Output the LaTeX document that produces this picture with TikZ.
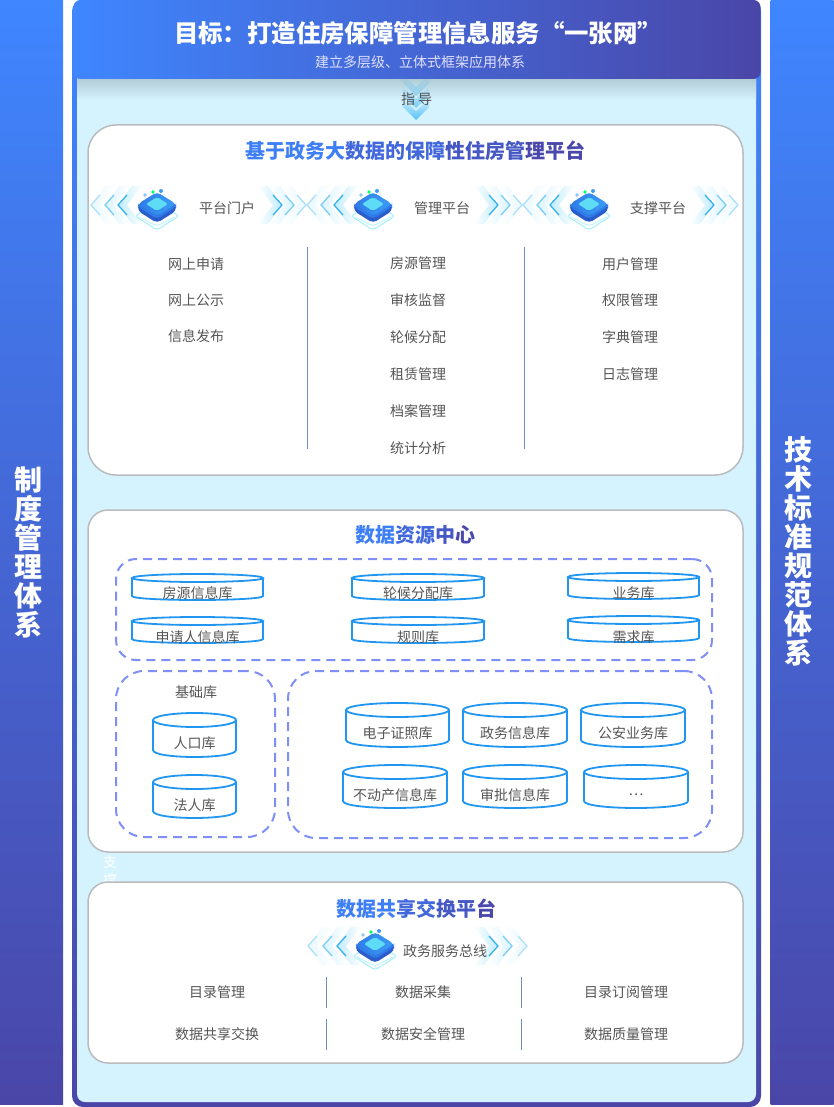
\documentclass[tikz,border=0pt]{standalone}
\usepackage{fontspec}
\setmainfont{Noto Sans CJK SC}
\usetikzlibrary{positioning,arrows.meta,fadings}

\definecolor{barblue}{HTML}{3F86FF}
\definecolor{barindigo}{HTML}{4A46A8}
\definecolor{framefill}{HTML}{D4F3FF}
\definecolor{itemgrey}{HTML}{555555}
\definecolor{rulegrey}{HTML}{B9BBBD}
\definecolor{dashblue}{HTML}{7F8FF5}
\definecolor{cylblue}{HTML}{2196F0}
\definecolor{divblue}{HTML}{6D8CC4}
\definecolor{gradA}{HTML}{3F7FF5}
\definecolor{gradB}{HTML}{4268DC}
\definecolor{gradC}{HTML}{4558C4}
\definecolor{gradD}{HTML}{4A48AC}
\definecolor{chevline}{HTML}{36B4F0}
\definecolor{chevwash}{HTML}{8FDDFB}
\definecolor{chipside}{HTML}{2A5CCB}
\definecolor{chipmid}{HTML}{2F7CE8}
\definecolor{chiptop}{HTML}{3C9CF5}
\definecolor{chipcore}{HTML}{5FDCF5}
\definecolor{chipglow}{HTML}{A5F0FC}

\newcommand{\fsize}[1]{\fontsize{#1}{#1}\selectfont}
% name, centre x, top y, width, height, end radius, text y, text
\newcommand{\dbcyl}[8]{%
  \draw[dbline] (#2-#4/2,#3+#6) -- (#2-#4/2,#3+#5-#6)
    .. controls (#2-#4/2,#3+#5+0.33*#6) and (#2+#4/2,#3+#5+0.33*#6) .. (#2+#4/2,#3+#5-#6)
    -- (#2+#4/2,#3+#6);
  \draw[dbline] (#2,#3+#6) ellipse [x radius=#4/2, y radius=#6];
  \node[itemtext] (#1) at (#2,#7) {#8};
}

\tikzset{
  bar/.style={minimum width=63pt, minimum height=1104pt, inner sep=0pt,
    top color=barblue, bottom color=barindigo},
  bartext/.style={white, align=center, inner sep=0pt, font=\fsize{28}\bfseries},
  panel/.style={draw=rulegrey, line width=1.5pt, fill=white, inner sep=0pt},
  paneltitle/.style={inner sep=0pt, font=\fsize{20}\bfseries},
  itemtext/.style={itemgrey, inner sep=0pt, font=\fsize{14}},
  dashbox/.style={draw=dashblue, line width=2pt, dash pattern=on 9pt off 6pt, inner sep=0pt},
  dbline/.style={draw=cylblue, line width=1.8pt, fill=white},
  divider/.style={draw=divblue, line width=1pt},
  chevleft/.pic={
    \fill[chevwash, opacity=0.55*#1, path fading=east] (0,0) -- (14,-19) -- (24,-19) -- (9,0) -- (24,19) -- (14,19) -- cycle;
    \draw[chevline, line width=1.3pt, opacity=#1] (9,-10) -- (0,0) -- (9,10);
  },
  chevright/.pic={
    \fill[chevwash, opacity=0.55*#1, path fading=west] (0,0) -- (-14,-19) -- (-24,-19) -- (-9,0) -- (-24,19) -- (-14,19) -- cycle;
    \draw[chevline, line width=1.3pt, opacity=#1] (-9,-10) -- (0,0) -- (-9,10);
  },
  guidevee/.pic={
    \fill[chevline, opacity=#1, path fading=north] (0,0) -- (13,-13) -- (14,-22) -- (0,-9) -- (-14,-22) -- (-13,-13) -- cycle;
  },
  chip/.pic={
    \draw[chipglow, line width=1pt, rounded corners=3pt] (0,0) -- (22,13) -- (0,27) -- (-22,13) -- cycle;
    \draw[chipglow!70!white, line width=1pt, rounded corners=3pt] (-18,14) -- (0,23) -- (18,14);
    \fill[chipside, rounded corners=4pt] (0,-10) -- (19,1) -- (19,8) -- (0,20) -- (-19,8) -- (-19,1) -- cycle;
    \fill[chipmid, rounded corners=4pt] (0,-10) -- (19,1) -- (19,4) -- (0,16) -- (-19,4) -- (-19,1) -- cycle;
    \shade[left color=chipmid, right color=chiptop, rounded corners=4pt] (0,-11) -- (19,1) -- (0,13) -- (-19,1) -- cycle;
    \fill[chipcore, rounded corners=2pt] (0,-6) -- (11,1) -- (0,8) -- (-11,1) -- cycle;
    \fill[chiptop!60!white] (-12,-8) circle (1.8);
    \fill[green!60!cyan] (-4,-11) circle (1.8);
    \fill[chiptop] (4,-12) circle (2);
  },
}

\begin{document}
\begin{tikzpicture}[x=1pt,y=-1pt]
\useasboundingbox (0,0) rectangle (833,1107);

% side bars
\node[bar] (lbar) at (31.5,552) {};
\node[bar] (rbar) at (802,552) {};
\node[bartext] (ltext) at (28,552) {制\\[1pt]度\\[1pt]管\\[1pt]理\\[1pt]体\\[1pt]系};
\node[bartext] (rtext) at (798,551) {技\\[1pt]术\\[1pt]标\\[1pt]准\\[1pt]规\\[1pt]范\\[1pt]体\\[1pt]系};

% frame and header
\node[top color=barblue, bottom color=barindigo, rounded corners=11pt, minimum width=689pt, minimum height=1107pt, inner sep=0pt] (frame) at (416.5,553.5) {};
\node[fill=framefill, rounded corners=8pt, minimum width=679pt, minimum height=1040pt, inner sep=0pt] (inner) at (416.5,582) {};
\shade[top color=black!16!framefill, bottom color=framefill] (77,79) rectangle (756,100);
\node[left color=barblue, right color=barindigo, rounded corners=7pt, minimum width=687pt, minimum height=79pt, inner sep=0pt] (header) at (417,39.5) {};
\node[white, inner sep=0pt, font=\fsize{24.4}\bfseries] (goal) at (418,33) {目标：打造住房保障管理信息服务“一张网”};
\node[white!88!blue, inner sep=0pt, font=\fsize{14}] (goalsub) at (420,62) {建立多层级、立体式框架应用体系};

% guide arrows
\pic at (416,96) {guidevee=0.4};
\pic at (416,108) {guidevee=0.6};
\pic at (416,120) {guidevee=0.8};
\node[itemtext] (guideA) at (408,99) {指};
\node[itemtext] (guideB) at (425,99) {导};

% support label, hidden in part by the lower panel
\node[white, inner sep=0pt, font=\fsize{14}] (supportA) at (110,862) {支};
\node[white, inner sep=0pt, font=\fsize{14}] (supportB) at (110,880) {撑};

% platform panel
\node[panel, rounded corners=28pt, minimum width=655pt, minimum height=350pt] (platform) at (415.5,300) {};
\node[paneltitle] (platformtitle) at (415,151) {{\color{gradA}基于政务大}{\color{gradB}数据的保障}{\color{gradC}性住房管}{\color{gradD}理平台}};

\foreach \xx/\op in {91/0.35,105/0.6,118/1,307/0.35,321/0.6,334/1,523/0.35,537/0.6,550/1}{
  \pic at (\xx,205) {chevleft=\op};
}
\foreach \xx/\op in {282/1,294/0.6,306/0.35,498/1,510/0.6,522/0.35,714/1,726/0.6,738/0.35}{
  \pic at (\xx,205) {chevright=\op};
}
\pic at (157,203) {chip};
\pic at (373,203) {chip};
\pic at (589,203) {chip};
\node[itemtext] (portal) at (227,208) {平台门户};
\node[itemtext] (manage) at (442,208) {管理平台};
\node[itemtext] (support) at (658,208) {支撑平台};

\coordinate (divAtop) at (307,247);
\coordinate (divAbot) at (307,449);
\coordinate (divBtop) at (524,247);
\coordinate (divBbot) at (524,449);
\draw[divider] (divAtop) -- (divAbot);
\draw[divider] (divBtop) -- (divBbot);

\node[itemtext] (a1) at (196,264) {网上申请};
\node[itemtext] (a2) at (196,300) {网上公示};
\node[itemtext] (a3) at (196,336) {信息发布};

\node[itemtext] (b1) at (418,263) {房源管理};
\node[itemtext] (b2) at (418,300) {审核监督};
\node[itemtext] (b3) at (418,337) {轮候分配};
\node[itemtext] (b4) at (418,374) {租赁管理};
\node[itemtext] (b5) at (418,411) {档案管理};
\node[itemtext] (b6) at (418,448) {统计分析};

\node[itemtext] (c1) at (630,264) {用户管理};
\node[itemtext] (c2) at (630,300) {权限管理};
\node[itemtext] (c3) at (630,337) {字典管理};
\node[itemtext] (c4) at (630,374) {日志管理};

% data centre panel
\node[panel, rounded corners=20pt, minimum width=655pt, minimum height=342pt] (datacentre) at (415.5,681) {};
\node[paneltitle] (datatitle) at (415,535) {{\color{gradA}数据}{\color{gradB}资源}{\color{gradC}中}{\color{gradD}心}};

\node[dashbox, rounded corners=20pt, minimum width=596pt, minimum height=101pt] (themebox) at (414,609.5) {};
\node[dashbox, rounded corners=28pt, minimum width=159pt, minimum height=166pt] (basebox) at (195.5,754) {};
\node[dashbox, rounded corners=28pt, minimum width=424pt, minimum height=167pt] (otherbox) at (500,754.5) {};

\dbcyl{housedb}{197.5}{574}{131}{26}{4}{593}{房源信息库}
\dbcyl{queuedb}{418}{574}{132}{26}{4}{593}{轮候分配库}
\dbcyl{bizdb}{633.5}{573}{131}{26}{4}{593}{业务库}
\dbcyl{applydb}{197.5}{617}{131}{26}{4}{637}{申请人信息库}
\dbcyl{ruledb}{418}{617}{132}{26}{4}{637}{规则库}
\dbcyl{needdb}{633.5}{616}{131}{26}{4}{637}{需求库}

\node[itemtext] (basetitle) at (196,692) {基础库};
\dbcyl{popdb}{194.5}{713}{83}{44}{7}{743}{人口库}
\dbcyl{corpdb}{194.5}{775}{83}{43}{7}{805}{法人库}

\dbcyl{certdb}{397.5}{703}{103}{44}{7}{733}{电子证照库}
\dbcyl{govdb}{515}{703}{104}{44}{7}{733}{政务信息库}
\dbcyl{policedb}{633}{703}{104}{44}{7}{733}{公安业务库}
\dbcyl{estatedb}{395}{765}{104}{43}{7}{795}{不动产信息库}
\dbcyl{auditdb}{515}{765}{104}{43}{7}{795}{审批信息库}
\dbcyl{moredb}{636}{765}{104}{43}{7}{795}{…}

% exchange panel
\node[panel, rounded corners=20pt, minimum width=655pt, minimum height=181pt] (exchange) at (415.5,972.5) {};
\node[paneltitle] (exchangetitle) at (416,909) {{\color{gradA}数据共}{\color{gradB}享交}{\color{gradC}换平}{\color{gradD}台}};

\foreach \xx/\op in {308/0.35,323/0.6,337/1}{
  \pic at (\xx,946) {chevleft=\op};
}
\foreach \xx/\op in {498/1,512/0.6,527/0.35}{
  \pic at (\xx,946) {chevright=\op};
}
\pic at (375,943) {chip};
\node[itemtext] (bus) at (445,951) {政务服务总线};

\coordinate (divCtop) at (326,977);
\coordinate (divCbot) at (326,1008);
\coordinate (divDtop) at (521,977);
\coordinate (divDbot) at (521,1008);
\coordinate (divEtop) at (326,1019);
\coordinate (divEbot) at (326,1050);
\coordinate (divFtop) at (521,1019);
\coordinate (divFbot) at (521,1050);
\draw[divider] (divCtop) -- (divCbot);
\draw[divider] (divDtop) -- (divDbot);
\draw[divider] (divEtop) -- (divEbot);
\draw[divider] (divFtop) -- (divFbot);

\node[itemtext] (d1) at (217,992) {目录管理};
\node[itemtext] (d2) at (423,992) {数据采集};
\node[itemtext] (d3) at (626,992) {目录订阅管理};
\node[itemtext] (d4) at (217,1034) {数据共享交换};
\node[itemtext] (d5) at (423,1034) {数据安全管理};
\node[itemtext] (d6) at (626,1034) {数据质量管理};

\end{tikzpicture}
\end{document}
